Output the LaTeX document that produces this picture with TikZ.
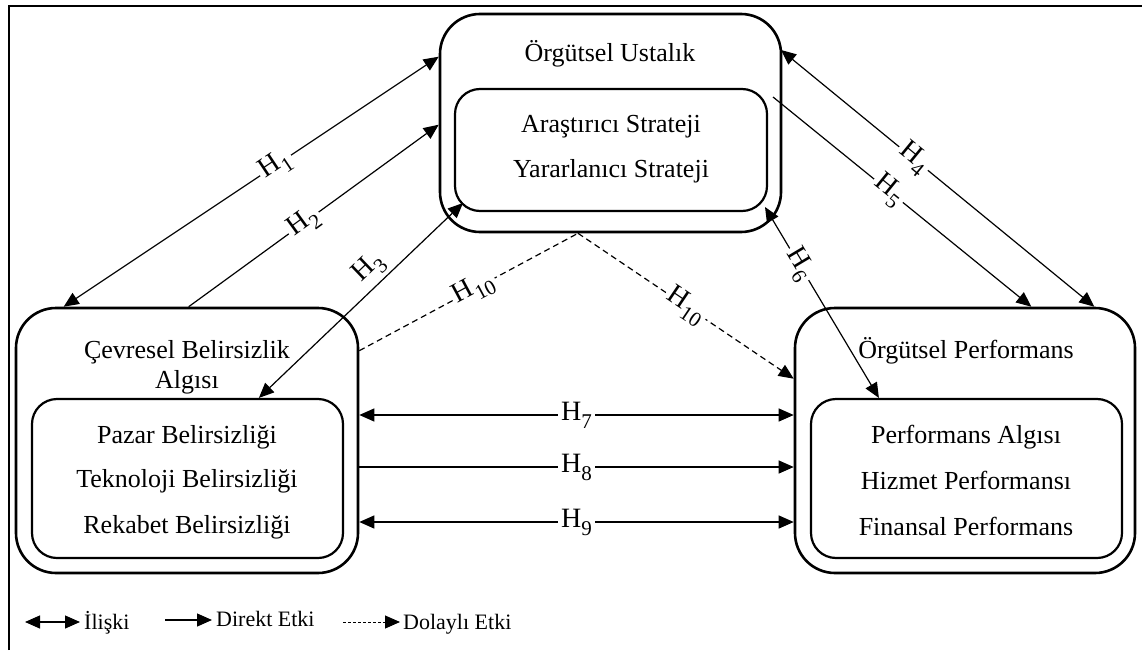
\documentclass[tikz,border=0pt]{standalone}
\usepackage{fontspec}
\setmainfont{Liberation Serif}
\usetikzlibrary{arrows.meta}

% hypothesis label: large H with a lowered index
\newcommand{\hyp}[1]{H\raisebox{-8pt}{\fontsize{21}{24}\selectfont #1}}

\begin{document}
\begin{tikzpicture}[x=1pt,y=-1pt,
  every node/.style={font=\fontsize{26}{30}\selectfont},
  outerbox/.style={draw, line width=2.6pt, rounded corners=40pt, inner sep=0pt},
  innerbox/.style={draw, line width=2.2pt, rounded corners=25pt, inner sep=0pt},
  txt/.style={anchor=base, inner sep=0pt},
  link/.style={line width=1.2pt},
  dashlink/.style={line width=1.2pt, dash pattern=on 6pt off 4pt},
  hlab/.style={fill=white, inner sep=3pt, sloped, font=\fontsize{28}{30}\selectfont},
  legtxt/.style={anchor=base west, inner sep=0pt, font=\fontsize{22}{26}\selectfont},
  >={Triangle[length=15pt,width=13pt]}
]
\useasboundingbox (0,0) rectangle (1142,650);

% outer frame
\draw[line width=1.5pt] (9,650) -- (9,6) -- (1142,6);

% boxes
\node[outerbox, minimum width=341pt, minimum height=218pt] (ou) at (610.5,123) {};
\node[innerbox, minimum width=312pt, minimum height=122pt] (ui) at (611,150) {};
\node[outerbox, minimum width=342pt, minimum height=265pt] (lo) at (187,440.5) {};
\node[innerbox, minimum width=311pt, minimum height=159pt] (li) at (187.5,478.5) {};
\node[outerbox, minimum width=340pt, minimum height=265pt] (ro) at (965,440.5) {};
\node[innerbox, minimum width=311pt, minimum height=159pt] (ri) at (966.5,478.5) {};

% box texts
\node[txt] (t1) at (610,62) {Örgütsel Ustalık};
\node[txt] (t2) at (611,132) {Araştırıcı Strateji};
\node[txt] (t3) at (611,177) {Yararlanıcı Strateji};
\node[txt] (t4) at (187,358) {Çevresel Belirsizlik};
\node[txt] (t5) at (187,388) {Algısı};
\node[txt] (t6) at (187,443) {Pazar Belirsizliği};
\node[txt] (t7) at (187,487) {Teknoloji Belirsizliği};
\node[txt] (t8) at (187,533) {Rekabet Belirsizliği};
\node[txt] (t9) at (966,358) {Örgütsel Performans};
\node[txt] (t10) at (966,443) {Performans Algısı};
\node[txt] (t11) at (966,489) {Hizmet Performansı};
\node[txt] (t12) at (966,535) {Finansal Performans};

% attachment points on the box borders
\coordinate (h1s) at ([xshift=49pt]lo.north west);
\coordinate (h1e) at ([yshift=-44pt]ou.north west);
\coordinate (h2s) at ([xshift=174pt]lo.north west);
\coordinate (h2e) at ([yshift=-112pt]ou.north west);
\coordinate (h3s) at ([xshift=228pt]li.north west);
\coordinate (h3e) at (463,203);
\coordinate (h4s) at (781,50);
\coordinate (h4e) at ([xshift=-42pt]ro.north east);
\coordinate (h5s) at (773,97);
\coordinate (h5e) at ([xshift=-105pt]ro.north east);
\coordinate (h6s) at (765,207);
\coordinate (h6e) at ([xshift=69pt]ri.north west);
\coordinate (hm) at ([xshift=-32.5pt]ou.south);
\coordinate (h10l) at ([yshift=-44pt]lo.north east);
\coordinate (h10r) at ([yshift=-72pt]ro.north west);

% hypotheses
\draw[link,<->] (h1s) -- node[hlab,pos=0.565] {\hyp{1}} (h1e);
\draw[link,->] (h2s) -- node[hlab,pos=0.46] {\hyp{2}} (h2e);
\draw[link,<->] (h3s) -- node[sloped,above=4pt,pos=0.6,inner sep=0pt,font=\fontsize{28}{30}\selectfont] {\hyp{3}} (h3e);
\draw[link,<->] (h4s) -- node[hlab,pos=0.423] {\hyp{4}} (h4e);
\draw[link,->] (h5s) -- node[hlab,pos=0.447] {\hyp{5}} (h5e);
\draw[link,<->] (h6s) -- node[hlab,pos=0.30] {\hyp{6}} (h6e);
\draw[link,<->] ([yshift=25.5pt]lo.east) -- node[hlab] {\hyp{7}} ([yshift=25.5pt]ro.west);
\draw[link,->] ([yshift=-26.5pt]lo.east) -- node[hlab] {\hyp{8}} ([yshift=-26.5pt]ro.west);
\draw[link,<->] ([yshift=-81.5pt]lo.east) -- node[hlab] {\hyp{9}} ([yshift=-81.5pt]ro.west);
\draw[dashlink] (h10l) -- node[hlab,pos=0.523] {\hyp{10}} (hm);
\draw[dashlink,->] (hm) -- node[hlab,pos=0.5] {\hyp{10}} (h10r);

% legend
\coordinate (la1) at (25,622);
\coordinate (la2) at (80,622);
\coordinate (lb1) at (165,620);
\coordinate (lb2) at (212,620);
\coordinate (lc1) at (343,622);
\coordinate (lc2) at (400,622);
\draw[link,<->] (la1) -- (la2);
\node[legtxt] (lg1) at (84,629) {İlişki};
\draw[link,->] (lb1) -- (lb2);
\node[legtxt] (lg2) at (216,626) {Direkt Etki};
\draw[line width=1pt,dash pattern=on 3pt off 2pt,->] (lc1) -- (lc2);
\node[legtxt] (lg3) at (403,629) {Dolaylı Etki};
\end{tikzpicture}
\end{document}
